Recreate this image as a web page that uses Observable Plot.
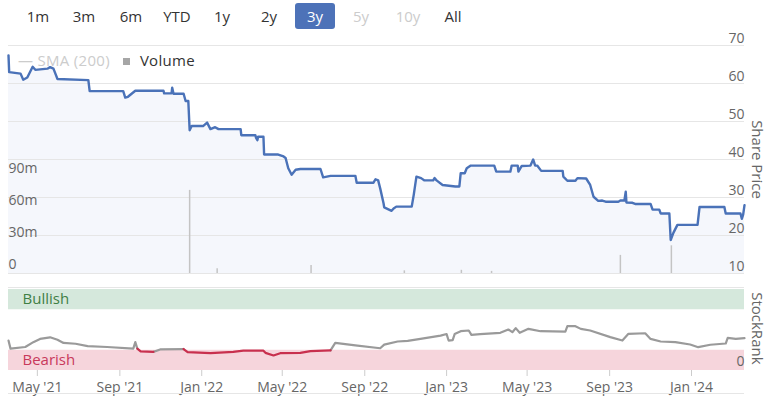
<!DOCTYPE html>
<html>
<head>
<meta charset="utf-8">
<script src="https://cdn.jsdelivr.net/npm/d3@7"></script>
<script src="https://cdn.jsdelivr.net/npm/@observablehq/plot@0.6"></script>
<style>
  html, body { margin: 0; padding: 0; background: #fff; }
  #wrap { position: relative; width: 768px; height: 396px; overflow: hidden; font-family: "Open Sans", "Noto Sans", sans-serif; }
  .btn { position: absolute; top: 3px; width: 40px; height: 26px; line-height: 26px; text-align: center; font-size: 15px; color: #333; border-radius: 3px; }
  .btn.sel { background: #4d72b8; color: #fff; }
  .btn.dis { color: #cccccc; }
  #legend { position: absolute; left: 18px; top: 50px; font-size: 15px; letter-spacing: 0.3px; white-space: nowrap; }
  #top, #bottom { position: absolute; left: 0; }
  #top { top: 30px; }
  #bottom { top: 280px; }
  #scroll { position: absolute; left: 8px; top: 393px; width: 736px; height: 1px; background: #e6e6e6; }
</style>
</head>
<body>
<div id="wrap">
  <div id="buttons"></div>
  <div id="top"></div>
  <div id="bottom"></div>
  <div id="legend"><span style="color:#cccccc">— SMA (200)</span><span style="display:inline-block;width:7px;height:7px;background:#a6a6a6;margin:0 10px 1px 13px;"></span><span style="color:#333">Volume</span></div>
  <div id="scroll"></div>
</div>
<script>
// ---------- data ----------
const rangeButtons = ["1m", "3m", "6m", "YTD", "1y", "2y", "3y", "5y", "10y", "All"];
const selectedButton = "3y";
const disabledButtons = ["5y", "10y"];

const priceDates = [
  "2021-03-19","2021-03-20","2021-04-06","2021-04-10","2021-04-16","2021-04-24","2021-04-28","2021-05-16","2021-05-20","2021-05-25",
  "2021-05-31","2021-07-16","2021-07-18","2021-09-06","2021-09-09","2021-09-13","2021-09-24","2021-11-05","2021-11-06","2021-11-17",
  "2021-11-18","2021-11-20","2021-12-05","2021-12-08","2021-12-12","2021-12-14","2021-12-17","2022-01-03","2022-01-09","2022-01-14",
  "2022-01-21","2022-01-26","2022-02-28","2022-03-01","2022-03-22","2022-03-23","2022-03-25","2022-03-26","2022-04-03","2022-04-04",
  "2022-04-25","2022-05-03","2022-05-06","2022-05-10","2022-05-15","2022-05-21","2022-05-28","2022-06-27","2022-07-01","2022-07-12",
  "2022-08-18","2022-08-20","2022-09-14","2022-09-17","2022-09-21","2022-09-24","2022-09-29","2022-09-30","2022-10-11","2022-10-14",
  "2022-10-18","2022-11-10","2022-11-13","2022-11-17","2022-11-24","2022-11-29","2022-12-12","2022-12-14","2022-12-17","2022-12-26",
  "2023-01-14","2023-01-20","2023-01-22","2023-01-28","2023-01-31","2023-02-06","2023-03-13","2023-03-16","2023-04-06","2023-04-08",
  "2023-04-17","2023-04-18","2023-04-23","2023-05-06","2023-05-10","2023-05-13","2023-05-16","2023-05-22","2023-06-23","2023-06-24",
  "2023-06-30","2023-07-12","2023-07-15","2023-07-28","2023-08-03","2023-08-08","2023-08-15","2023-08-21","2023-08-26","2023-09-14",
  "2023-09-17","2023-09-23","2023-09-25","2023-09-26","2023-10-05","2023-10-09","2023-11-01","2023-11-04","2023-11-14","2023-11-16",
  "2023-11-29","2023-12-01","2023-12-05","2023-12-11","2023-12-14","2024-01-10","2024-01-13","2024-02-19","2024-02-21","2024-03-14",
  "2024-03-16","2024-03-18","2024-03-20"
];
const priceValues = [
  67.4,63.0,62.6,61.0,61.6,64.4,63.6,63.9,64.3,63.9,
  61.2,60.9,58.0,58.0,56.3,56.5,58.1,58.1,57.4,57.4,
  58.9,57.3,57.3,55.4,55.4,47.7,48.8,48.8,49.7,48.0,
  48.5,48.0,48.0,46.4,46.4,45.7,45.1,46.0,46.0,41.3,
  41.3,40.8,40.4,37.7,36.0,37.3,37.5,37.5,35.3,35.7,
  35.7,33.9,33.9,34.8,34.5,32.4,28.5,27.4,26.5,27.1,
  27.6,27.6,30.7,35.5,35.1,34.5,34.5,35.1,34.5,33.3,
  32.9,32.9,36.4,36.4,37.7,38.4,38.4,36.8,36.8,38.4,
  38.4,36.8,38.3,38.4,40.0,38.4,38.4,37.0,37.0,35.5,
  34.4,34.4,35.1,35.0,33.3,30.2,29.1,29.2,28.9,28.9,
  29.2,29.2,31.5,28.7,28.6,28.3,28.3,26.8,26.8,25.8,
  25.8,18.8,20.7,22.8,22.8,22.8,27.5,27.5,25.8,25.8,
  24.4,25.5,28.0
];

// volume in millions of shares
const volumeDates  = ["2021-12-14","2022-01-24","2022-06-13","2022-10-30","2023-01-23","2023-03-09","2023-09-17","2023-12-02"];
const volumeValues = [78, 4.5, 7.5, 2.5, 3, 2, 17, 26];

const rankDates = [
  "2021-03-19","2021-03-22","2021-04-13","2021-04-25","2021-05-05","2021-05-20","2021-05-31","2021-06-09","2021-06-27","2021-07-15",
  "2021-08-13","2021-09-21","2021-09-24","2021-09-27","2021-10-02","2021-10-21","2021-10-31","2021-12-05","2021-12-11","2022-01-14",
  "2022-02-17","2022-03-04","2022-04-03","2022-04-06","2022-04-18","2022-04-28","2022-05-28","2022-06-12","2022-07-12","2022-07-19",
  "2022-08-18","2022-09-24","2022-09-30","2022-10-20","2022-11-04","2022-11-23","2022-12-23","2023-01-01","2023-01-04","2023-01-10",
  "2023-01-13","2023-01-22","2023-02-03","2023-02-07","2023-02-20","2023-03-22","2023-04-03","2023-04-09","2023-04-14","2023-04-20",
  "2023-05-03","2023-05-21","2023-06-27","2023-06-30","2023-07-12","2023-07-20","2023-08-03","2023-09-02","2023-09-20","2023-09-29",
  "2023-10-24","2023-11-01","2023-11-16","2023-12-08","2023-12-30","2024-01-11","2024-01-29","2024-02-21","2024-02-24","2024-03-07",
  "2024-03-20"
];
const rankValues = [
  37,27,29,35,39,41,38,34,33,30,
  29,27,35,27,23.5,23,26,26.5,22.6,21.4,
  23,24.5,24.5,21.8,18.5,21.4,21.8,24,24.8,34,
  31,27.5,32,35.8,36.6,39,43,45,37,37.4,
  45,48.5,49.4,44,45,46.5,50.6,47.3,52.3,46.5,
  51.4,48.5,48.1,54.7,54.7,51.4,49.4,41.2,37,45.3,
  46,39,35.8,35,32.1,28.8,31.8,33.3,40.3,39,
  40
];

const priceTicks = [10, 20, 30, 40, 50, 60, 70];
const volumeTicks = [0, 30, 60, 90];
const volumeTickLabels = ["0", "30m", "60m", "90m"];
const bandLabels = ["Bullish", "Bearish"];
const bandLow = [75, 0];
const bandHigh = [100, 25];
const rankTicks = [0];
const xTickDates = ["2021-05-01","2021-09-01","2022-01-01","2022-05-01","2022-09-01","2023-01-01","2023-05-01","2023-09-01","2024-01-01"];
const xDomain = ["2021-03-19", "2024-03-20"];

// ---------- build ----------
const FONT = '"Open Sans", "Noto Sans", sans-serif';
const W = 768, ML = 8, MR = 24;
const x0 = new Date(xDomain[0]), x1 = new Date(xDomain[1]);

// buttons
const btnCenters = [38, 84, 131, 177, 222, 269, 315, 361, 408, 453];
const bd = document.getElementById("buttons");
rangeButtons.forEach((b, i) => {
  const el = document.createElement("div");
  el.className = "btn" + (b === selectedButton ? " sel" : "") + (disabledButtons.includes(b) ? " dis" : "");
  el.style.left = (btnCenters[i] - 20) + "px";
  el.textContent = b;
  bd.appendChild(el);
});

const price = priceDates.map((d, i) => ({date: new Date(d), v: priceValues[i]}));
const volume = volumeDates.map((d, i) => ({date: new Date(d), v: volumeValues[i]}));

const priceMin = 10, priceMax = 70;
const volumeAxisMax = 214; // millions spanning the full panel height
const volToPrice = v => priceMin + v / volumeAxisMax * (priceMax - priceMin);

const topPlot = Plot.plot({
  width: W, height: 250,
  marginLeft: ML, marginRight: MR, marginTop: 15, marginBottom: 7,
  style: {fontFamily: FONT, background: "transparent", overflow: "visible"},
  x: {type: "utc", domain: [x0, x1], axis: null},
  y: {domain: [priceMin, priceMax], axis: null},
  marks: [
    Plot.areaY(price, {x: "date", y1: priceMin, y2: "v", fill: "#f5f7fc"}),
    Plot.ruleY(priceTicks, {stroke: "#e6e6e6", strokeWidth: 1}),
    Plot.ruleX(volume, {x: "date", y1: priceMin, y2: d => volToPrice(d.v), stroke: "#c4c4c4", strokeWidth: 1.5}),
    Plot.line(price, {x: "date", y: "v", stroke: "#4a72b8", strokeWidth: 2.4, strokeLinejoin: "round"}),
    Plot.text(priceTicks, {y: d => d, text: d => String(d), frameAnchor: "right", textAnchor: "end", dy: -7, fill: "#666", fontSize: 14}),
    Plot.text(volumeTicks, {y: d => volToPrice(d), text: (d, i) => volumeTickLabels[i], frameAnchor: "left", textAnchor: "start", dy: -9, fill: "#666", fontSize: 14}),
    Plot.text(["Share Price"], {y: 40, text: d => d, frameAnchor: "right", textAnchor: "middle", dx: 12, rotate: 90, fill: "#666", fontSize: 15})
  ]
});
document.getElementById("top").appendChild(topPlot);

// rank runs coloured by zone
const bearishLevel = bandHigh[1];
const rank = rankDates.map((d, i) => ({date: new Date(d), v: rankValues[i]}));
const runs = [];
let cur = null;
rank.forEach(p => {
  const zone = p.v < bearishLevel ? "bear" : "norm";
  if (!cur || cur.zone !== zone) {
    const start = cur ? [cur.pts[cur.pts.length - 1]] : [];
    cur = {zone, pts: start.slice(), id: runs.length};
    runs.push(cur);
  }
  cur.pts.push(p);
});
const runPts = runs.flatMap(r => r.pts.map(p => ({...p, run: r.id, zone: r.zone})));

const bands = bandLabels.map((l, i) => ({label: l, lo: bandLow[i], hi: bandHigh[i]}));

const bottomPlot = Plot.plot({
  width: W, height: 116,
  marginLeft: ML, marginRight: MR, marginTop: 9, marginBottom: 26,
  style: {fontFamily: FONT, background: "transparent", overflow: "visible"},
  x: {type: "utc", domain: [x0, x1]},
  y: {domain: [0, 100], axis: null},
  marks: [
    Plot.ruleY([100], {stroke: "#e6e6e6", dy: -2}),
    Plot.rect([bands[0]], {x1: x0, x2: x1, y1: "lo", y2: "hi", fill: "#d5e8dc"}),
    Plot.rect([bands[1]], {x1: x0, x2: x1, y1: "lo", y2: "hi", fill: "#f6d5dc"}),
    Plot.text([bands[0]], {y: d => (d.lo + d.hi) / 2, text: "label", frameAnchor: "left", textAnchor: "start", dx: 14, fill: "#3f7f45", fontSize: 15}),
    Plot.text([bands[1]], {y: d => (d.lo + d.hi) / 2, text: "label", frameAnchor: "left", textAnchor: "start", dx: 14, fill: "#c8395b", fontSize: 15}),
    Plot.line(runPts.filter(d => d.zone === "norm"), {x: "date", y: "v", z: "run", stroke: "#9a9a9a", strokeWidth: 2.2}),
    Plot.line(runPts.filter(d => d.zone === "bear"), {x: "date", y: "v", z: "run", stroke: "#c8304e", strokeWidth: 2.2}),
    Plot.text(rankTicks, {y: d => d, text: d => String(d), frameAnchor: "right", textAnchor: "end", dy: -9, fill: "#666", fontSize: 14}),
    Plot.text(["StockRank"], {y: 52, text: d => d, frameAnchor: "right", textAnchor: "middle", dx: 12, rotate: 90, fill: "#666", fontSize: 15}),
    Plot.axisX({
      ticks: xTickDates.map(d => new Date(d)),
      tickFormat: d3.utcFormat("%b '%y"),
      tickSize: 6, tickPadding: 6,
      stroke: "#cccccc", fill: "#666", fontSize: 14, label: null
    })
  ]
});
document.getElementById("bottom").appendChild(bottomPlot);
</script>
</body>
</html>
